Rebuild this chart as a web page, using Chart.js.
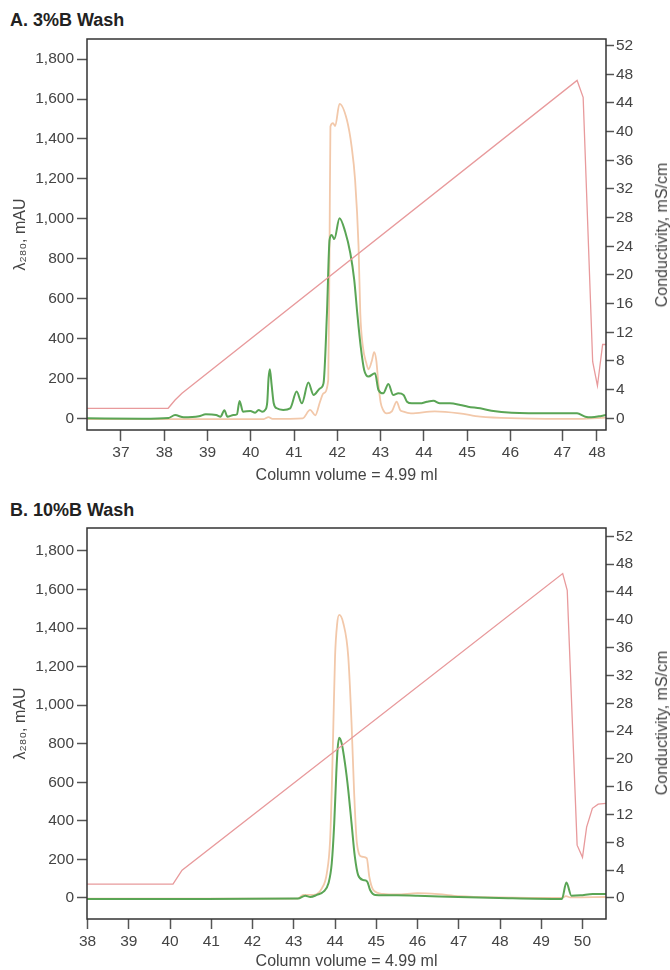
<!DOCTYPE html>
<html lang="en">
<head>
  <meta charset="UTF-8" />
  <title>3%B and 10%B Wash</title>
  <style>
    body {
      margin: 0;
      background: #fff;
      width: 670px;
      height: 970px;
      position: relative;
      overflow: hidden;
      font-family: 'Liberation Sans', Arial, sans-serif;
    }
    .panel-title {
      position: absolute;
      left: 10px;
      margin: 0;
      font-size: 18px;
      font-weight: bold;
      line-height: 22px;
      color: #222;
    }
    /* right axis title reads bottom to top, like the left one */
    .right-title {
      position: absolute;
      left: 662px;
      font-size: 16px;
      line-height: 16px;
      color: #444;
      white-space: nowrap;
      transform: translate(-50%, -50%) rotate(-90deg);
    }
    canvas {
      position: absolute;
      left: 0;
    }
  </style>
</head>
<body>
  <h2 class="panel-title" style="top:9px">A. 3%B Wash</h2>
  <canvas id="chartA" width="670" height="485" style="top:0"></canvas>
  <div class="right-title" style="top:235px">Conductivity, mS/cm</div>
  <h2 class="panel-title" style="top:499px">B. 10%B Wash</h2>
  <canvas id="chartB" width="670" height="480" style="top:490px"></canvas>
  <div class="right-title" style="top:723px">Conductivity, mS/cm</div>

  <script src="https://cdn.jsdelivr.net/npm/chart.js"></script>
  <script>
    // shared axis ticks
    const LEFT_TICKS = [0, 200, 400, 600, 800, 1000, 1200, 1400, 1600, 1800];
    const RIGHT_TICKS = [0, 4, 8, 12, 16, 20, 24, 28, 32, 36, 40, 44, 48, 52];

    // panel A (3%B wash)
    const A_XTICKS = [37, 38, 39, 40, 41, 42, 43, 44, 45, 46, 47.2, 48];
    const A_XLABELS = ['37', '38', '39', '40', '41', '42', '43', '44', '45', '46', '47', '48'];

    const A_COND_X = [36.2, 38.09, 38.25, 38.41, 47.54, 47.68, 47.90, 48.01, 48.13, 48.21];
    const A_COND_Y = [1.4, 1.4, 2.56, 3.49, 47.15, 44.8, 7.9, 4.55, 10.3, 10.3];

    const A_GREEN_X = [36.2, 37.5, 38.1, 38.25, 38.45, 38.8, 38.96, 39.2, 39.3, 39.39, 39.46, 39.6, 39.68, 39.74, 39.82,
      39.99, 40.1, 40.18, 40.26, 40.33, 40.38, 40.41, 40.44, 40.48, 40.53, 40.6, 40.75, 40.91, 41.06, 41.18,
      41.33, 41.45, 41.6, 41.68, 41.76, 41.82, 41.87, 41.93, 42.05, 42.18, 42.3, 42.39, 42.46, 42.54, 42.62,
      42.72, 42.87, 42.95, 43.06, 43.18, 43.29, 43.41, 43.53, 43.61, 43.72, 43.91, 44.07, 44.22, 44.37, 44.6,
      44.84, 45.02, 45.3, 45.56, 46.03, 46.97, 47.54, 47.73, 47.87, 48.1, 48.21];
    const A_GREEN_Y = [0, -2, 2, 16, 5, 10, 20, 17, 8, 40, 8, 16, 20, 87, 33,
      37, 28, 42, 33, 42, 80, 200, 246, 170, 75, 50, 42, 50, 134, 75,
      179, 117, 150, 175, 527, 894, 919, 898, 1003, 936, 827, 694, 527, 359, 242,
      209, 226, 142, 125, 172, 117, 125, 117, 83, 75, 75, 83, 88, 75, 75,
      67, 58, 50, 38, 28, 25, 25, 8, 5, 12, 17];

    const A_ORANGE_X = [36.2, 40.3, 40.41, 40.5, 41.2, 41.37, 41.49, 41.6, 41.68, 41.79, 41.82, 41.84, 41.9, 41.95,
      42.05, 42.22, 42.33, 42.41, 42.49, 42.53, 42.59, 42.67, 42.72, 42.8, 42.85, 42.9, 42.95, 43.0, 43.05, 43.14, 43.26,
      43.37, 43.45, 43.53, 43.7, 44.25, 44.82, 45.3, 46.2, 47.6, 48.21];
    const A_ORANGE_Y = [-4, -4, 6, -3, 0, 42, 15, 83, 125, 192, 861, 1462, 1479, 1465,
      1576, 1496, 1362, 1195, 861, 527, 359, 276, 245, 290, 332, 290, 170, 80, 45, 25, 35,
      83, 42, 33, 25, 35, 25, 8, 0, -3, 3];

    // panel B (10%B wash)
    const B_XTICKS = [38, 39, 40, 41, 42, 43, 44, 45, 46, 47, 48, 49, 50];
    const B_XLABELS = ['38', '39', '40', '41', '42', '43', '44', '45', '46', '47', '48', '49', '50'];

    const B_COND_X = [37.98, 40.07, 40.18, 40.29, 49.52, 49.63, 49.87, 50.0, 50.1, 50.24, 50.38, 50.57];
    const B_COND_Y = [2.0, 2.0, 3.0, 4.0, 46.65, 44.25, 7.6, 5.85, 10.2, 12.9, 13.5, 13.6];

    const B_GREEN_X = [37.98, 39.6, 40.5, 43.1, 43.28, 43.4, 43.56, 43.72, 43.84, 43.92, 43.98, 44.03, 44.06, 44.1,
      44.16, 44.24, 44.32, 44.4, 44.48, 44.56, 44.69, 44.78, 44.85, 44.97, 45.5, 46.0, 46.99, 47.98, 49.5,
      49.61, 49.73, 49.95, 50.25, 50.57];
    const B_GREEN_Y = [-5, -5, -5, -3, 12, 5, 16, 33, 76, 180, 387, 647, 768, 831,
      802, 699, 560, 387, 214, 119, 93, 85, 41, 16, 14, 12, 5, 0, -5,
      80, 12, 14, 21, 21];

    const B_ORANGE_X = [37.98, 43.1, 43.23, 43.47, 43.68, 43.8, 43.88, 43.92, 43.96, 44.0, 44.05, 44.1, 44.2, 44.32,
      44.4, 44.46, 44.53, 44.65, 44.77, 44.83, 44.93, 45.17, 45.5, 46.0, 46.5, 47.0, 48.0, 49.5, 49.6,
      49.7, 50.57];
    const B_ORANGE_Y = [-3, -3, 16, 16, 50, 128, 301, 560, 906, 1252, 1420, 1468, 1425, 1252,
      906, 560, 284, 214, 206, 110, 41, 21, 18, 25, 20, 10, 3, 0, 10,
      3, 5];

    const FONT = "'Liberation Sans', Arial, sans-serif";
    const TEXT = '#444';
    const TICK = '#555';

    function pts(xs, ys) {
      return xs.map((x, i) => ({ x: x, y: ys[i] }));
    }

    // dark box round the plot area
    const framePlugin = {
      id: 'frame',
      afterDatasetsDraw(chart) {
        const { ctx, chartArea: a } = chart;
        ctx.save();
        ctx.strokeStyle = '#333';
        ctx.lineWidth = 1.5;
        ctx.strokeRect(a.left, a.top, a.right - a.left, a.bottom - a.top);
        ctx.restore();
      }
    };

    function makeChart(id, c) {
      const ctx = document.getElementById(id).getContext('2d');
      return new Chart(ctx, {
        type: 'line',
        data: {
          datasets: [
            {
              label: 'Conductivity',
              data: pts(c.condX, c.condY),
              yAxisID: 'y2',
              borderColor: '#e89a9c',
              borderWidth: 1.3,
              tension: 0,
              order: 0
            },
            {
              label: 'Green',
              data: pts(c.greenX, c.greenY),
              yAxisID: 'y',
              borderColor: '#5aa555',
              borderWidth: 2,
              cubicInterpolationMode: 'monotone',
              order: 1
            },
            {
              label: 'Orange',
              data: pts(c.orangeX, c.orangeY),
              yAxisID: 'y',
              borderColor: '#f2c8aa',
              borderWidth: 1.8,
              cubicInterpolationMode: 'monotone',
              order: 2
            }
          ]
        },
        options: {
          responsive: false,
          animation: false,
          elements: { point: { radius: 0 } },
          layout: { padding: { top: c.padTop, left: 0, right: 0, bottom: 0 } },
          plugins: {
            legend: { display: false },
            tooltip: { enabled: false }
          },
          scales: {
            x: {
              type: 'linear',
              min: c.xMin,
              max: c.xMax,
              afterBuildTicks: s => { s.ticks = c.xTicks.map(v => ({ value: v })); },
              afterFit: s => { s.height = c.xHeight; },
              border: { display: false },
              grid: { drawOnChartArea: false, tickLength: c.xTickLen, tickColor: TICK, tickWidth: 1.5 },
              ticks: {
                padding: c.xTickPad,
                color: TEXT,
                maxRotation: 0,
                autoSkip: false,
                font: { family: FONT, size: 15.5 },
                callback: (v, i) => c.xLabels[i]
              },
              title: {
                display: true,
                text: 'Column volume = 4.99 ml',
                color: TEXT,
                font: { family: FONT, size: 16, lineHeight: 1 },
                padding: { top: 0, bottom: c.xTitlePad }
              }
            },
            y: {
              position: 'left',
              min: c.yMin,
              max: c.yMax,
              afterBuildTicks: s => { s.ticks = LEFT_TICKS.map(v => ({ value: v })); },
              afterFit: s => { s.width = 87; },
              border: { display: false },
              grid: { drawOnChartArea: false, tickLength: 10, tickColor: TICK, tickWidth: 1.5 },
              ticks: {
                padding: 3,
                color: TEXT,
                font: { family: FONT, size: 15.5 },
                callback: v => v.toLocaleString('en-US')
              },
              title: {
                display: true,
                text: 'λ₂₈₀, mAU',
                color: TEXT,
                font: { family: FONT, size: 16, lineHeight: 1 },
                padding: { top: 13, bottom: 0 }
              }
            },
            y2: {
              position: 'right',
              min: c.y2Min,
              max: c.y2Max,
              afterBuildTicks: s => { s.ticks = RIGHT_TICKS.map(v => ({ value: v })); },
              afterFit: s => { s.width = 64; },
              border: { display: false },
              grid: { drawOnChartArea: false, tickLength: 8, tickColor: TICK, tickWidth: 1.5 },
              ticks: {
                padding: 2,
                color: TEXT,
                font: { family: FONT, size: 15.5 },
                callback: v => String(v)
              },
              title: { display: false }
            }
          }
        },
        plugins: [framePlugin]
      });
    }

    makeChart('chartA', {
      condX: A_COND_X, condY: A_COND_Y,
      greenX: A_GREEN_X, greenY: A_GREEN_Y,
      orangeX: A_ORANGE_X, orangeY: A_ORANGE_Y,
      xTicks: A_XTICKS, xLabels: A_XLABELS,
      xMin: 36.215, xMax: 48.208,
      yMin: -58.7, yMax: 1901,
      y2Min: -1.63, y2Max: 52.93,
      padTop: 39, xHeight: 55, xTickLen: 11, xTickPad: 2, xTitlePad: 1
    });

    makeChart('chartB', {
      condX: B_COND_X, condY: B_COND_Y,
      greenX: B_GREEN_X, greenY: B_GREEN_Y,
      orangeX: B_ORANGE_X, orangeY: B_ORANGE_Y,
      xTicks: B_XTICKS, xLabels: B_XLABELS,
      xMin: 37.985, xMax: 50.57,
      yMin: -109, yMax: 1919,
      y2Min: -3.02, y2Max: 53.2,
      padTop: 38, xHeight: 51, xTickLen: 10, xTickPad: 3, xTitlePad: 0
    });
  </script>
</body>
</html>
